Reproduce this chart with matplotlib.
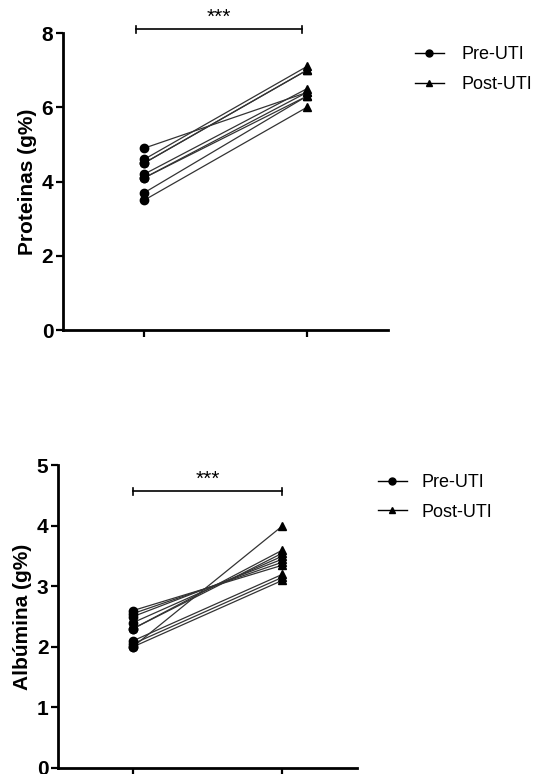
import matplotlib
matplotlib.use("Agg")
import matplotlib.pyplot as plt
from matplotlib.lines import Line2D

plt.rcParams["font.family"] = ["Liberation Sans", "DejaVu Sans"]

# group labels and paired values (pre vs post ICU)
groups = ["Pre-UTI", "Post-UTI"]

prot_pre = [4.9, 4.6, 4.5, 4.5, 4.2, 4.1, 4.1, 3.7, 3.5]
prot_post = [6.4, 7.1, 7.0, 7.0, 6.5, 6.4, 6.3, 6.3, 6.0]

alb_pre = [2.6, 2.55, 2.5, 2.4, 2.3, 2.3, 2.1, 2.05, 2.0, 2.0]
alb_post = [3.35, 3.4, 3.45, 3.5, 3.55, 3.6, 3.2, 3.15, 3.1, 4.0]

prot_ticks = [0, 2, 4, 6, 8]
alb_ticks = [0, 1, 2, 3, 4, 5]


def paired_panel(ax, pre, post, yticks, ylabel, bar_y, bar_x, legend_anchor, textpad):
    for a, b in zip(pre, post):
        ax.plot([1, 2], [a, b], color="#333333", lw=0.9, zorder=2)
    ax.plot([1] * len(pre), pre, "o", color="black", ms=6, zorder=3)
    ax.plot([2] * len(post), post, "^", color="black", ms=5.5, zorder=3)

    ax.set_xlim(0.5, 2.5)
    ax.set_ylim(yticks[0], yticks[-1])
    ax.set_yticks(yticks)
    ax.set_xticks([1, 2])
    ax.set_xticklabels([])
    for lab in ax.get_yticklabels():
        lab.set_fontweight("bold")
    ax.tick_params(axis="both", direction="out", length=5, width=1.6,
                   labelsize=15, pad=2)
    ax.spines["top"].set_visible(False)
    ax.spines["right"].set_visible(False)
    ax.spines["left"].set_linewidth(2)
    ax.spines["bottom"].set_linewidth(2)
    ax.set_ylabel(ylabel, fontsize=15, fontweight="bold", labelpad=3)

    # significance bar
    x0, x1 = bar_x
    dy = (yticks[-1] - yticks[0]) * 0.012
    ax.plot([x0, x1], [bar_y, bar_y], color="black", lw=1.2, clip_on=False)
    ax.plot([x0, x0], [bar_y - dy, bar_y + dy], color="black", lw=1.2, clip_on=False)
    ax.plot([x1, x1], [bar_y - dy, bar_y + dy], color="black", lw=1.2, clip_on=False)
    ax.text((x0 + x1) / 2, bar_y + dy * 0.6, "***", ha="center", va="bottom",
            fontsize=15, clip_on=False)

    handles = [
        Line2D([], [], color="black", lw=1, marker="o", ms=5),
        Line2D([], [], color="black", lw=1, marker="^", ms=4.5),
    ]
    ax.legend(handles, groups, loc="upper left", bbox_to_anchor=legend_anchor,
              frameon=False, fontsize=13, handlelength=1.6, handletextpad=textpad,
              labelspacing=0.7, borderaxespad=0)


fig = plt.figure(figsize=(5.43, 7.74), dpi=100)

ax1 = fig.add_axes([0.116, 0.5736, 0.599, 0.3837])
paired_panel(ax1, prot_pre, prot_post, prot_ticks, "Proteinas (g%)",
             8.1, (0.95, 1.97), (1.06, 0.98), 1.0)

ax2 = fig.add_axes([0.107, 0.0078, 0.551, 0.391])
paired_panel(ax2, alb_pre, alb_post, alb_ticks, "Albúmina (g%)",
             4.57, (1.0, 2.0), (1.045, 0.995), 0.8)

fig.savefig("out.png", dpi=100)
